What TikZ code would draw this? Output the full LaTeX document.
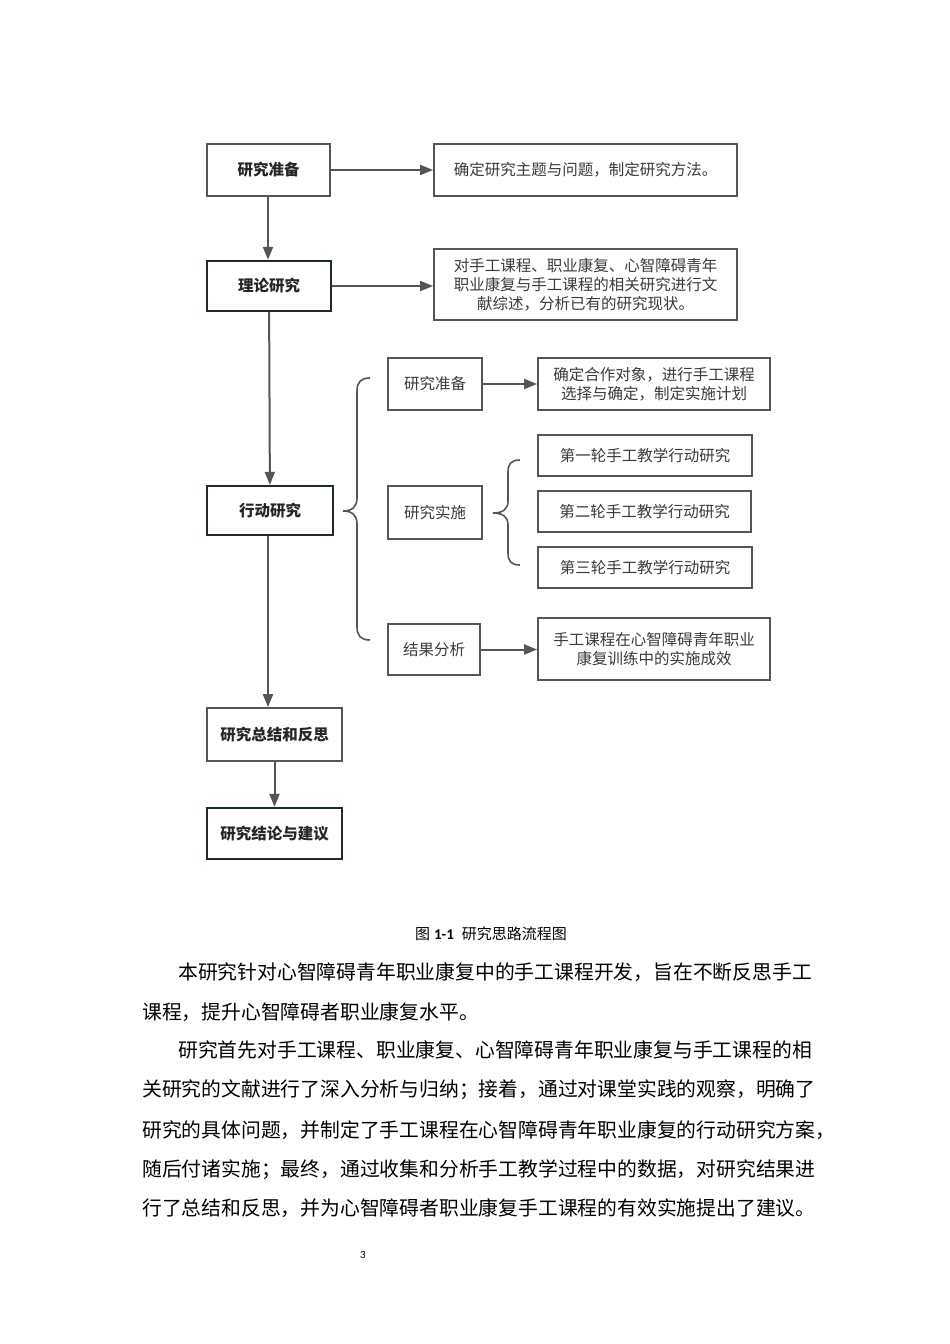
\documentclass[tikz,border=0pt]{standalone}
\usepackage{fontspec}
\usetikzlibrary{arrows.meta}
\newfontfamily\cjk{Noto Sans CJK SC}
\newfontfamily\latinf{Carlito}
\definecolor{boxgray}{HTML}{555555}
\definecolor{textgray}{HTML}{3A3A3A}
\definecolor{keyline}{HTML}{1E2B30}
\begin{document}
\begin{tikzpicture}[x=1pt,y=-1pt,
  box/.style={draw=boxgray, line width=1.8pt, fill=white, inner sep=0pt, align=center,
    font=\cjk\fontsize{15.5}{19}\selectfont, text=textgray},
  mainbox/.style={box, font=\cjk\bfseries\fontsize{15.5}{19}\selectfont, text=black!85},
  keybox/.style={mainbox, draw=keyline, line width=2.4pt},
  arr/.style={draw=boxgray, line width=2pt, -{Triangle[length=13pt,width=10pt]}},
  bracepath/.style={draw=boxgray, line width=1.6pt},
  bodyline/.style={anchor=west, inner sep=0pt, font=\cjk\fontsize{19.8}{22}\selectfont, text=black}]
\fill[white] (0,0) rectangle (950,1344);
\useasboundingbox (0,0) rectangle (950,1344);

% main column
\node[mainbox, minimum width=123pt, minimum height=52pt] (a) at (268.5,170) {研究准备};
\node[box, minimum width=303pt, minimum height=52pt] (ar) at (585.5,170) {确定研究主题与问题，制定研究方法。};
\node[keybox, minimum width=124pt, minimum height=50pt] (b) at (269,286) {理论研究};
\node[box, minimum width=303pt, minimum height=71pt] (br) at (585.5,284.5) {对手工课程、职业康复、心智障碍青年\\职业康复与手工课程的相关研究进行文\\献综述，分析已有的研究现状。};
\node[keybox, minimum width=126pt, minimum height=49pt] (c) at (270,510.5) {行动研究};
\node[mainbox, minimum width=135pt, minimum height=53pt] (d) at (274.5,734.5) {研究总结和反思};
\node[keybox, minimum width=135pt, minimum height=51pt] (e) at (274.5,833.5) {研究结论与建议};

% sub column
\node[box, minimum width=94pt, minimum height=52pt] (s1) at (435,384) {研究准备};
\node[box, minimum width=232pt, minimum height=52pt] (s1r) at (654,384) {确定合作对象，进行手工课程\\选择与确定，制定实施计划};
\node[box, minimum width=94pt, minimum height=53pt] (s2) at (435,512.5) {研究实施};
\node[box, minimum width=214pt, minimum height=41pt] (r1) at (645,455.5) {第一轮手工教学行动研究};
\node[box, minimum width=213pt, minimum height=41pt] (r2) at (644.5,511.5) {第二轮手工教学行动研究};
\node[box, minimum width=214pt, minimum height=41pt] (r3) at (645,567.5) {第三轮手工教学行动研究};
\node[box, minimum width=92pt, minimum height=51pt] (s3) at (434,649.5) {结果分析};
\node[box, minimum width=232pt, minimum height=62pt] (s3r) at (654,649) {手工课程在心智障碍青年职业\\康复训练中的实施成效};

% arrows
\draw[arr] (a) -- (ar);
\draw[arr] (b.east) -- (b.east -| br.west);
\draw[arr] (a.south -| 268,0) -- (b.north -| 268,0);
\draw[arr] (b) -- (c);
\draw[arr] (c.south -| 268,0) -- (d.north -| 268,0);
\draw[arr] (d) -- (e);
\draw[arr] (s1) -- (s1r);
\draw[arr] (s3) -- (s3.east -| s3r.west);

% braces
\coordinate (bt) at (370,378);
\coordinate (btip) at (343,511);
\coordinate (bb) at (370,640);
\draw[bracepath] (bt) .. controls (361,378) and (357,382) .. (357,391) -- (357,498)
  .. controls (357,507) and (352,511) .. (btip) .. controls (352,511) and (357,515) .. (357,524)
  -- (357,627) .. controls (357,636) and (361,640) .. (bb);
\coordinate (st) at (520,460);
\coordinate (stip) at (493,513);
\coordinate (sb) at (520,565);
\draw[bracepath] (st) .. controls (511,460) and (508,464) .. (508,472) -- (508,501)
  .. controls (508,509) and (503,513) .. (stip) .. controls (503,513) and (508,517) .. (508,525)
  -- (508,553) .. controls (508,561) and (511,565) .. (sb);

% caption
\node[inner sep=0pt, font=\cjk\fontsize{15}{18}\selectfont] (cap) at (491,934)
  {图\hspace{4pt}{\latinf\bfseries 1-1}\hspace{8pt}研究思路流程图};

% body text
\node[bodyline] (p1) at (178,972) {本研究针对心智障碍青年职业康复中的手工课程开发，旨在不断反思手工};
\node[bodyline] (p2) at (142,1012) {课程，提升心智障碍者职业康复水平。};
\node[bodyline] (p3) at (178,1050) {研究首先对手工课程、职业康复、心智障碍青年职业康复与手工课程的相};
\node[bodyline] (p4) at (142,1090) {关研究的文献进行了深入分析与归纳；接着，通过对课堂实践的观察，明确了};
\node[bodyline] (p5) at (142,1130) {研究的具体问题，并制定了手工课程在心智障碍青年职业康复的行动研究方案，};
\node[bodyline] (p6) at (142,1170) {随后付诸实施；最终，通过收集和分析手工教学过程中的数据，对研究结果进};
\node[bodyline] (p7) at (142,1208) {行了总结和反思，并为心智障碍者职业康复手工课程的有效实施提出了建议。};

% page number
\node[inner sep=0pt, font=\latinf\fontsize{11}{13}\selectfont] (pg) at (363,1255) {3};
\end{tikzpicture}
\end{document}
